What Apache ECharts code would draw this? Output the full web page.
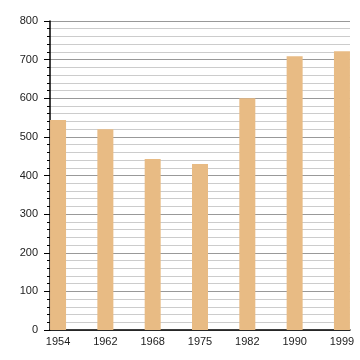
<!DOCTYPE html>
<html><head><meta charset="utf-8">
<script src="https://cdn.jsdelivr.net/npm/echarts@6/dist/echarts.min.js"></script>
<style>html,body{margin:0;padding:0;background:#fff}#c{width:360px;height:360px}</style>
</head><body><div id="c"></div>
<script>
var categories = ['1954','1962','1968','1975','1982','1990','1999'];
var values = [544, 520, 443, 430, 600, 709, 722];
var yTicks = [0,100,200,300,400,500,600,700,800];

var chart = echarts.init(document.getElementById('c'), null, {renderer:'canvas'});
var data = values.map(function(v,i){return [i,v];});
var font = 'Liberation Sans, Arial, sans-serif';
chart.setOption({
  animation:false,
  grid:{left:50,right:10,top:21,bottom:30},
  xAxis:{
    type:'value', min:-0.17, max:categories.length-1+0.17, interval:1,
    axisLine:{show:true,onZero:false,lineStyle:{color:'#000',width:1.5}},
    axisTick:{show:false},
    splitLine:{show:false},
    axisLabel:{color:'#222',fontFamily:font,fontSize:11,margin:6,
      customValues:categories.map(function(c,i){return i;}),
      formatter:function(v){var i=Math.round(v);return categories[i]!==undefined?categories[i]:'';}}
  },
  yAxis:{
    type:'value', min:yTicks[0], max:yTicks[yTicks.length-1], interval:100,
    axisLine:{show:true,onZero:false,lineStyle:{color:'#000',width:1.5}},
    axisTick:{show:true,length:6,lineStyle:{color:'#000'}},
    minorTick:{show:true,splitNumber:5,length:3,lineStyle:{color:'#000'}},
    splitLine:{show:true,lineStyle:{color:'#999',width:1}},
    minorSplitLine:{show:true,lineStyle:{color:'#ccc',width:1}},
    axisLabel:{color:'#222',fontFamily:font,fontSize:11,margin:12}
  },
  series:[{type:'bar',data:data,barWidth:16,itemStyle:{color:'#E8BB84'},z:3}]
});
</script></body></html>
